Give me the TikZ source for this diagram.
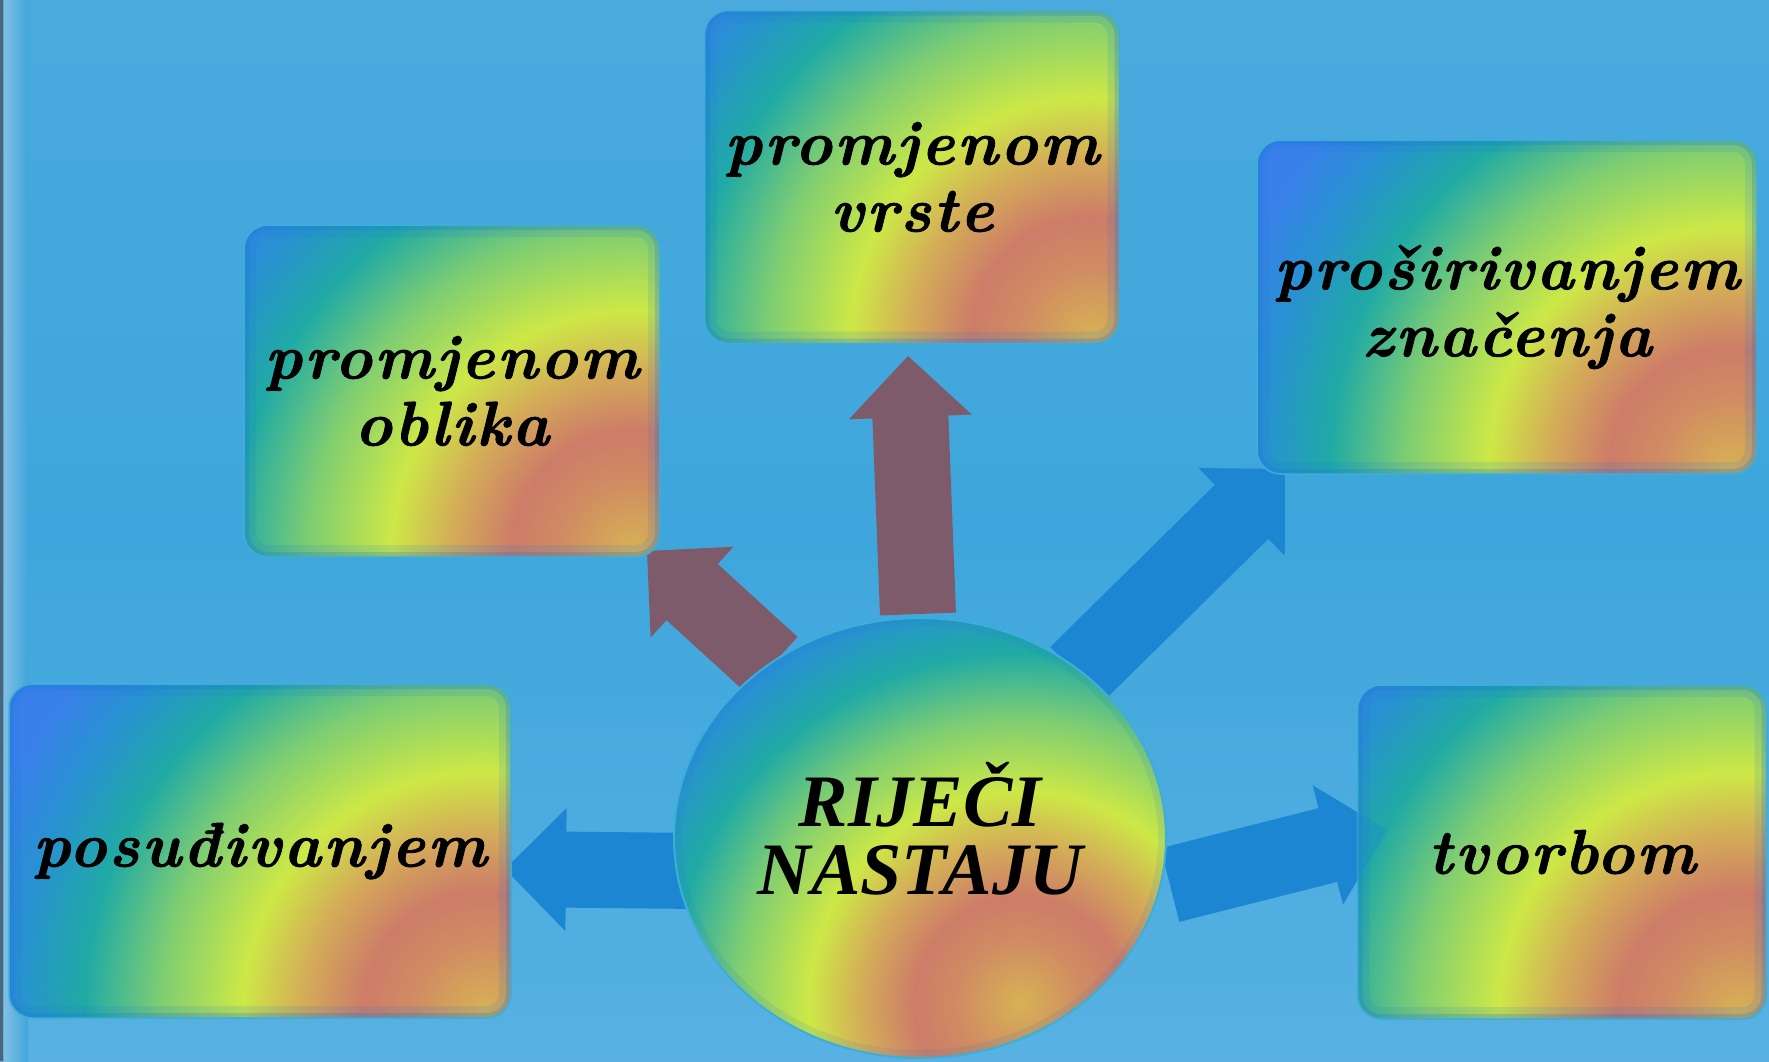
\documentclass[tikz,border=0pt]{standalone}
\usepackage{fontspec}
\setmainfont{Latin Modern Roman}
\newfontfamily\circfont{Liberation Serif}
\usetikzlibrary{calc,shapes.geometric}

\definecolor{bgblue}{RGB}{62,166,220}
\definecolor{bgtop}{RGB}{74,170,222}
\definecolor{bgbot}{RGB}{88,177,226}
\definecolor{framegray}{RGB}{80,100,120}
\definecolor{framelight}{RGB}{130,190,226}
\definecolor{mauve}{RGB}{126,91,107}
\definecolor{arrblue}{RGB}{28,134,210}
\definecolor{gA}{RGB}{215,178,85}
\definecolor{gB}{RGB}{208,140,98}
\definecolor{gC}{RGB}{205,124,104}
\definecolor{gD}{RGB}{212,172,88}
\definecolor{gE}{RGB}{205,232,70}
\definecolor{gF}{RGB}{125,205,115}
\definecolor{gG}{RGB}{32,170,165}
\definecolor{gH}{RGB}{40,145,210}
\definecolor{gI}{RGB}{58,128,235}
\definecolor{glow}{RGB}{30,120,215}
\definecolor{rim}{RGB}{60,175,215}

% 25bp of this shading = 750pt on a box
\pgfdeclareradialshading{rainbow}{\pgfpoint{0bp}{0bp}}{%
 color(0bp)=(gA); color(2.33bp)=(gB); color(4bp)=(gC); color(6bp)=(gD);
 color(8bp)=(gE); color(10.8bp)=(gF); color(13.3bp)=(gG); color(15.6bp)=(gH);
 color(17.6bp)=(gI); color(50bp)=(gI)}

\newcommand{\blockarrow}[3]{%
  \coordinate (hb) at ($(#2)!61pt!(#1)$);
  \fill[#3] ($(#1)!38pt!90:(#2)$) -- ($(hb)!38pt!90:(#2)$) -- ($(hb)!61.5pt!90:(#2)$)
     -- (#2) -- ($(hb)!61.5pt!-90:(#2)$) -- ($(hb)!38pt!-90:(#2)$) -- ($(#1)!38pt!-90:(#2)$) -- cycle;}

\tikzset{
  gbox/.style={rectangle, rounded corners=24pt, fill=gI, draw=rim, line width=1.5pt,
    inner sep=0pt, align=center, text=black,
    font=\fontsize{63}{67}\selectfont\bfseries\itshape\addfontfeature{LetterSpace=3.8,FakeBold=1.2},
    path picture={
      \shade[shading=rainbow] ($(path picture bounding box.south east)+(-28pt,6pt)$) circle (750pt);
      \draw[rounded corners=24pt, glow, line width=24pt, opacity=0.14]
        (path picture bounding box.south west) rectangle (path picture bounding box.north east);
      \draw[rounded corners=24pt, glow, line width=10pt, opacity=0.25]
        (path picture bounding box.south west) rectangle (path picture bounding box.north east);
    }},
  hub/.style={ellipse, fill=gI, draw=rim, line width=2pt, inner sep=0pt,
    path picture={
      \shade[shading=rainbow] ($(path picture bounding box.center)+(100pt,-165pt)$) circle (660pt);
      \draw[glow, line width=16pt, opacity=0.12] (path picture bounding box.center) ellipse (246pt and 220pt);
    }},
  hubtext/.style={align=center, text=black, inner sep=0pt,
    font=\circfont\fontsize{74}{68}\selectfont\bfseries\itshape},
  mauvearrow/.style={fill=mauve},
  bluearrow/.style={fill=arrblue}
}

\begin{document}
\begin{tikzpicture}[x=1pt,y=-1pt]
\useasboundingbox (0,0) rectangle (1769,1061);
% background
\shade[top color=bgtop, bottom color=bgbot, middle color=bgblue] (0,0) rectangle (1769,1061);
\shade[left color=framelight, right color=bgblue] (4,0) rectangle (28,1061);
\fill[framegray] (0,0) rectangle (3,1061);

% arrow end points
\coordinate (a1s) at (918,614);  \coordinate (a1e) at (908,356);
\coordinate (a2s) at (772,665);  \coordinate (a2e) at (647,551);
\coordinate (a3s) at (1077,674); \coordinate (a3e) at (1285,469);
\coordinate (a4s) at (700,871);  \coordinate (a4e) at (505,869);
\coordinate (a5s) at (1170,885); \coordinate (a5e) at (1387,830);

\blockarrow{a1s}{a1e}{mauvearrow}
\blockarrow{a2s}{a2e}{mauvearrow}
\blockarrow{a3s}{a3e}{bluearrow}
\blockarrow{a4s}{a4e}{bluearrow}
\blockarrow{a5s}{a5e}{bluearrow}

% boxes
\node[gbox, minimum width=416pt, minimum height=332pt] (oblika) at (452,391) {promjenom\\oblika};
\node[gbox, minimum width=415pt, minimum height=333pt] (vrste) at (912,177) {promjenom\\vrste};
\node[gbox, minimum width=500pt, minimum height=334pt] (znac) at (1507,307) {proširivanjem\\značenja};
\node[gbox, minimum width=502pt, minimum height=334pt] (posud) at (260,851) {posuđivanjem};
\node[gbox, minimum width=409pt, minimum height=334pt] (tvor) at (1562,852) {tvorbom};

% arrow head seen through the tvorbom box
\begin{scope}
  \clip[rounded corners=24pt] (tvor.south west) rectangle (tvor.north east);
  \blockarrow{a5s}{a5e}{bluearrow, opacity=0.35}
\end{scope}

% centre
\node[hub, minimum width=492pt, minimum height=440pt] (hubnode) at (920,838) {};
\node[hubtext] (hublabel) at (920,829) {RIJEČI\\NASTAJU};
\end{tikzpicture}
\end{document}
